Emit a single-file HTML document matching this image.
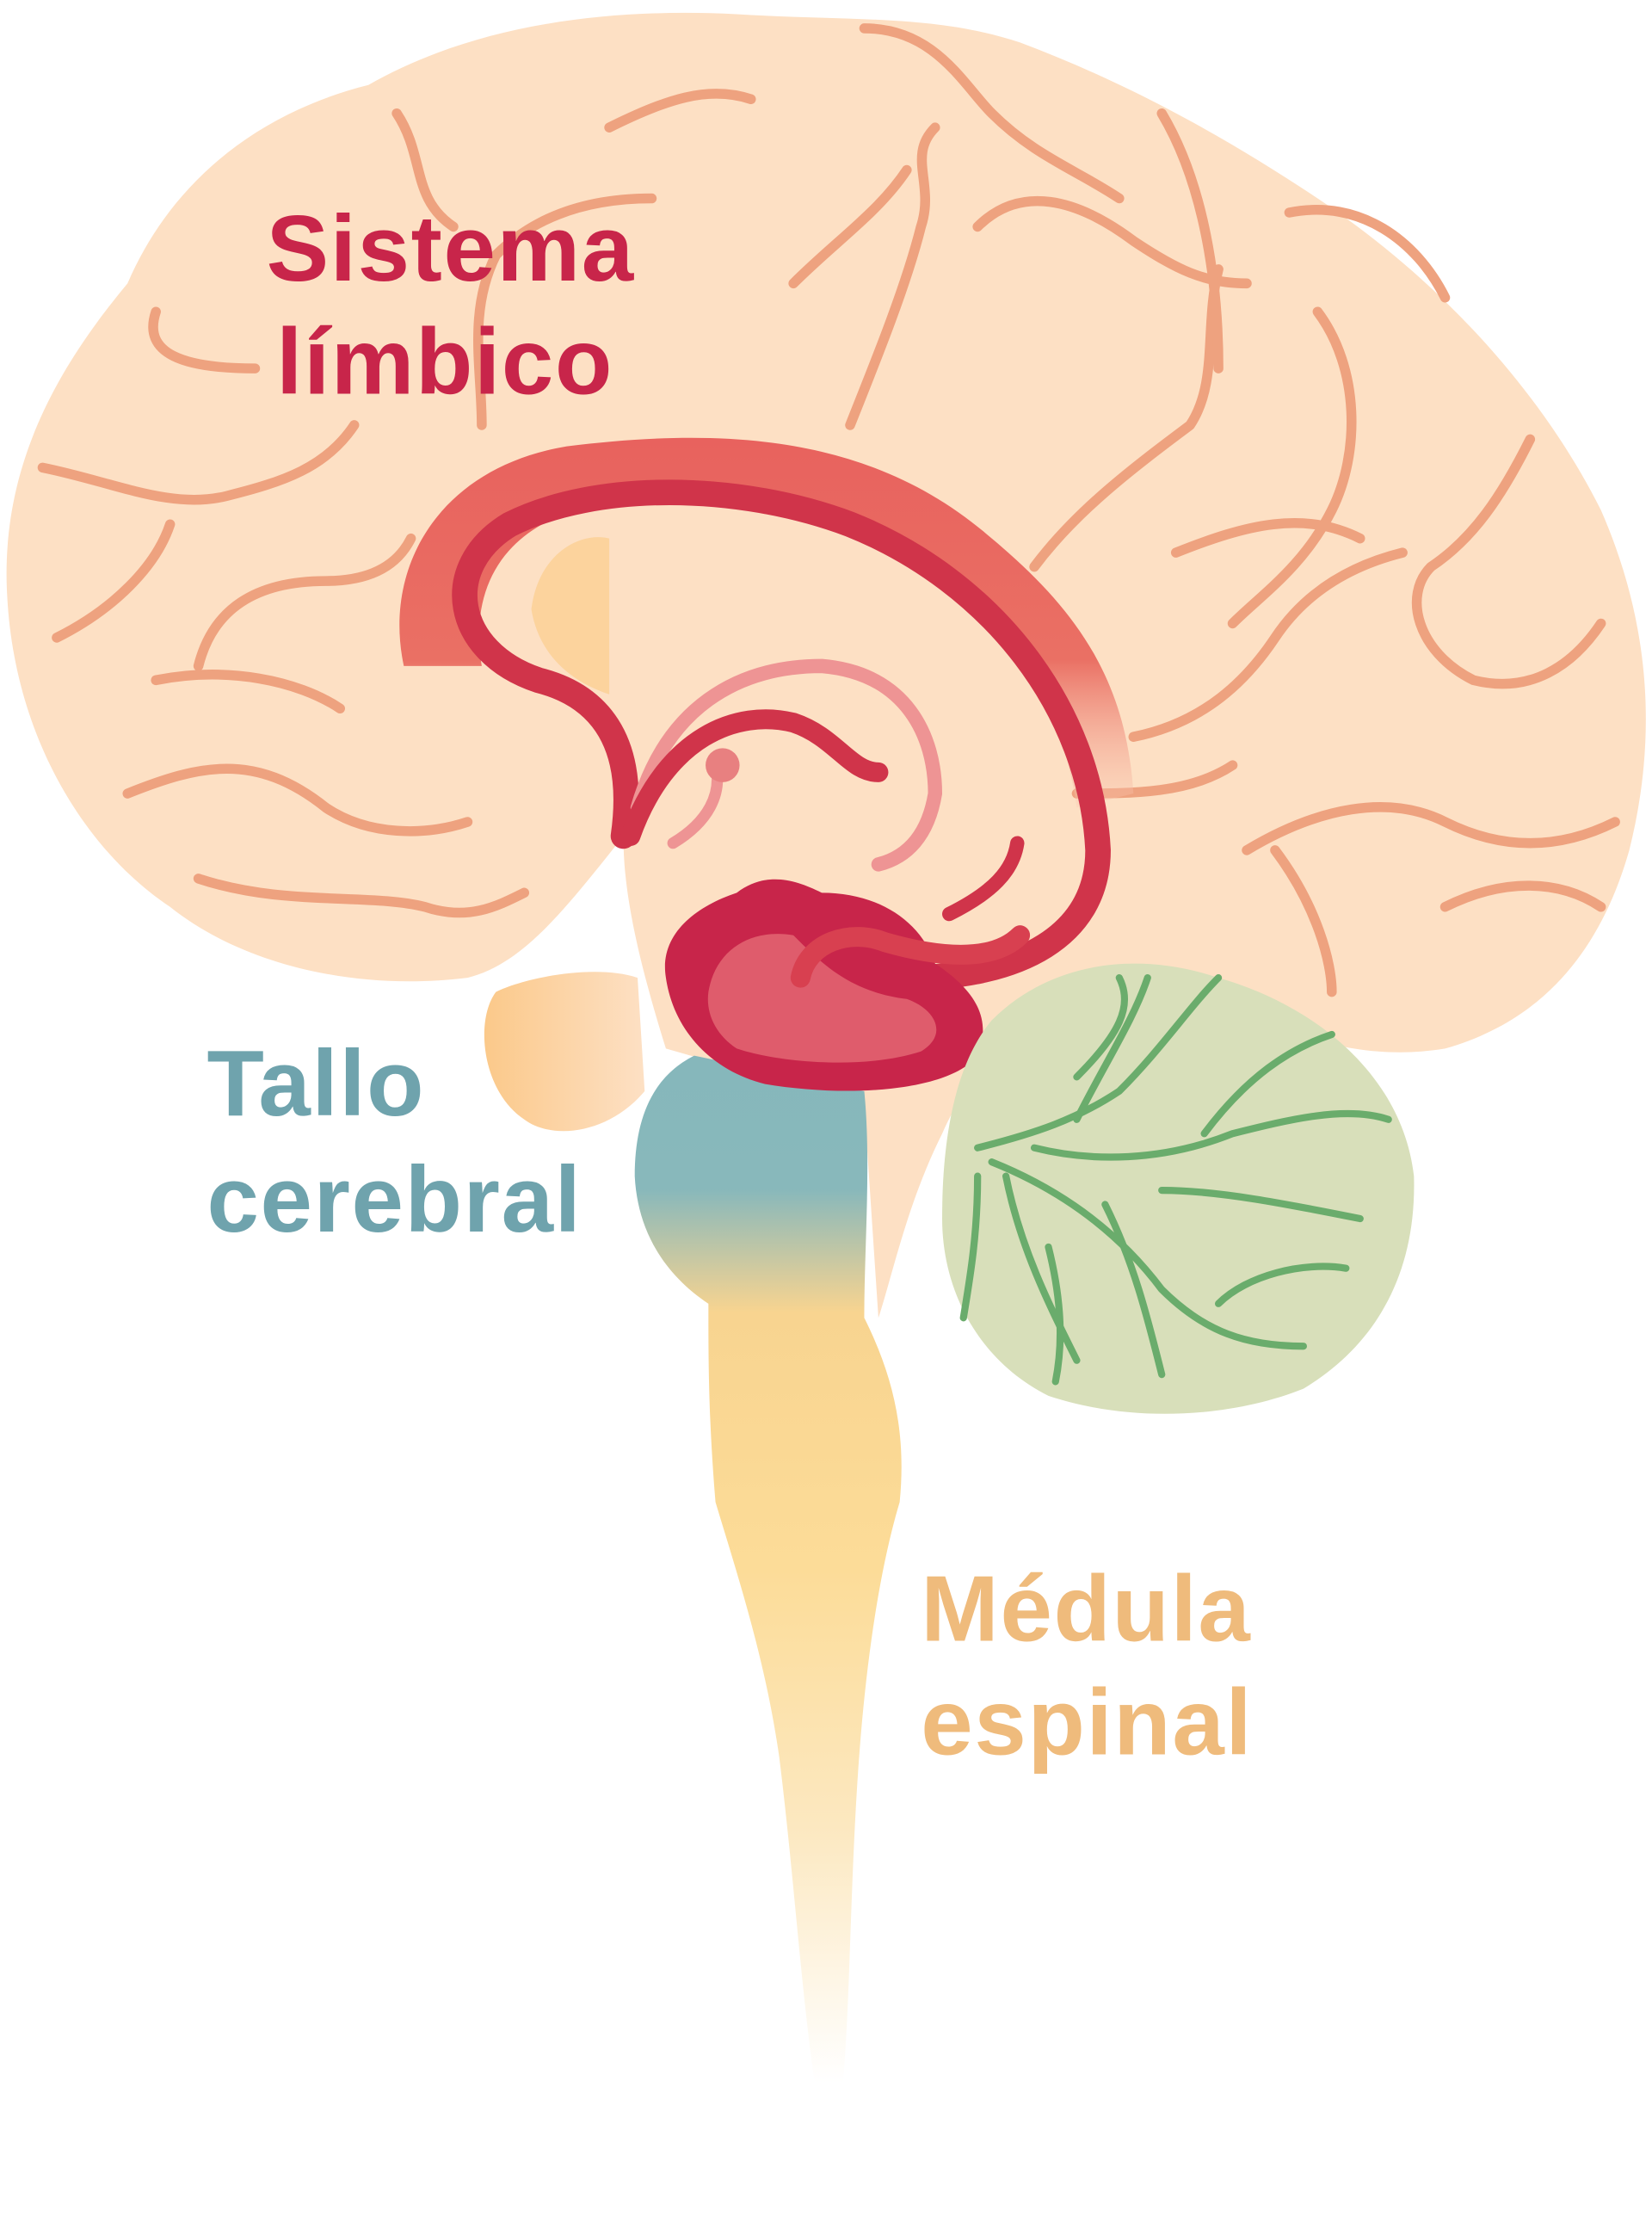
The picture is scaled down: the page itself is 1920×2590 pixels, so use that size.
<!DOCTYPE html>
<html><head><meta charset="utf-8"><style>
html,body{margin:0;padding:0;background:#fff;}
svg{display:block;}
text{font-family:"Liberation Sans","DejaVu Sans",sans-serif;font-weight:bold;}
</style></head><body>
<svg width="1920" height="2590" viewBox="0 0 1166 1573" xmlns="http://www.w3.org/2000/svg">
<defs>
<linearGradient id="stem" x1="0" y1="0" x2="0" y2="1">
<stop offset="0" stop-color="#86b7bb"/><stop offset="0.13" stop-color="#88b8bb"/>
<stop offset="0.25" stop-color="#f8d490"/><stop offset="0.5" stop-color="#fcdc98"/>
<stop offset="0.75" stop-color="#fce8c0"/><stop offset="1" stop-color="#fff"/>
</linearGradient>
<linearGradient id="pons" x1="0" y1="0" x2="1" y2="0">
<stop offset="0" stop-color="#fbc98a"/><stop offset="1" stop-color="#fde0c4"/>
</linearGradient>
<linearGradient id="band" x1="0" y1="0" x2="0" y2="1">
<stop offset="0" stop-color="#e8625e"/><stop offset="0.6" stop-color="#ea7064"/><stop offset="1" stop-color="#f9c8b0" stop-opacity="0.3"/>
</linearGradient>
</defs>
<path d="M330,690 C250,700 170,680 120,640 C60,600 10,520 5,420 C0,330 40,260 90,200 C120,130 180,80 260,60 C330,20 420,5 520,10 C600,15 660,10 720,30 C800,60 870,100 930,140 C1020,200 1090,280 1130,360 C1165,440 1170,520 1150,600 C1130,670 1090,720 1020,740 C960,750 900,730 860,700 C780,680 700,720 665,800 C640,850 630,900 620,930 L610,780 L470,740 C445,660 440,620 440,590 C400,640 370,680 330,690 Z" fill="#fde0c4"/>
<g fill="none" stroke="#eea27f" stroke-width="7" stroke-linecap="round" stroke-linejoin="round">
<path d="M30,330 C80,340 120,360 160,350 C200,340 230,330 250,300"/>
<path d="M40,450 C80,430 110,400 120,370"/>
<path d="M90,560 C140,540 180,530 230,570 C260,590 300,590 330,580"/>
<path d="M140,620 C200,640 260,630 300,640 C330,650 350,640 370,630"/>
<path d="M110,480 C160,470 210,480 240,500"/>
<path d="M140,470 C150,430 180,410 230,410 C260,410 280,400 290,380"/>
<path d="M110,220 C100,250 130,260 180,260"/>
<path d="M340,300 C340,260 330,220 350,180 C380,150 420,140 460,140"/>
<path d="M280,80 C300,110 290,140 320,160"/>
<path d="M430,90 C470,70 500,60 530,70"/>
<path d="M610,20 C660,20 680,60 700,80 C730,110 760,120 790,140"/>
<path d="M600,300 C620,250 640,200 650,160 C660,130 640,110 660,90"/>
<path d="M560,200 C590,170 620,150 640,120"/>
<path d="M690,160 C720,130 760,140 800,170 C830,190 850,200 880,200"/>
<path d="M730,400 C760,360 800,330 840,300 C860,270 850,230 860,190"/>
<path d="M820,80 C850,130 860,200 860,260"/>
<path d="M910,150 C960,140 1000,170 1020,210"/>
<path d="M930,220 C960,260 960,320 940,360 C920,400 890,420 870,440"/>
<path d="M830,390 C880,370 920,360 960,380"/>
<path d="M1080,310 C1060,350 1040,380 1010,400 C990,420 1000,460 1040,480 C1080,490 1110,470 1130,440"/>
<path d="M800,520 C850,510 880,480 900,450 C920,420 950,400 990,390"/>
<path d="M880,600 C930,570 980,560 1020,580 C1060,600 1100,600 1140,580"/>
<path d="M900,600 C930,640 940,680 940,700"/>
<path d="M1020,640 C1060,620 1100,620 1130,640"/>
<path d="M760,560 C800,560 840,560 870,540"/>
</g>
<path d="M285,470 C270,400 310,330 400,315 C520,300 620,310 700,380 C760,430 795,480 800,560 L760,570 C750,500 720,450 670,410 C600,360 520,350 430,355 C360,365 330,410 340,470 Z" fill="url(#band)"/>
<path d="M375,430 C380,390 410,375 430,380 L430,490 C400,480 380,460 375,430 Z" fill="#fbcf94" opacity="0.8"/>
<path d="M440,590 C450,520 420,490 380,480 C320,460 310,400 360,370 C420,340 520,340 600,370 C700,410 770,500 775,600 C775,660 720,690 640,690" fill="none" stroke="#d0344a" stroke-width="18" stroke-linecap="round"/>
<path d="M450,570 C470,500 520,470 580,470 C640,475 660,520 660,560 C655,590 640,605 620,610" fill="none" stroke="#ee9494" stroke-width="10" stroke-linecap="round"/>
<path d="M445,590 C470,520 520,500 560,510 C590,520 600,545 620,545" fill="none" stroke="#d0344a" stroke-width="14" stroke-linecap="round"/>
<path d="M475,595 C500,580 510,560 505,540" fill="none" stroke="#ee9494" stroke-width="8" stroke-linecap="round"/>
<circle cx="510" cy="540" r="12" fill="#e88080"/>
<path d="M670,645 C700,630 715,615 718,595" fill="none" stroke="#d0344a" stroke-width="10" stroke-linecap="round"/>
<path d="M350,700 C370,690 420,680 450,690 L455,770 C430,800 390,805 370,790 C340,770 335,720 350,700 Z" fill="url(#pons)"/>
<path d="M490,745 L610,770 C615,820 610,880 610,930 C630,970 640,1010 635,1060 C620,1110 610,1180 605,1260 C600,1340 600,1410 595,1470 L575,1470 C565,1400 560,1320 550,1240 C540,1170 520,1110 505,1060 C500,1000 500,960 500,920 C470,900 450,870 448,830 C448,790 460,760 490,745 Z" fill="url(#stem)"/>
<path d="M470,690 C465,660 490,640 520,630 C540,615 560,620 580,630 C620,630 650,650 660,680 C690,700 700,720 690,745 C670,770 600,775 540,765 C500,755 475,725 470,690 Z" fill="#c8254a"/>
<path d="M500,700 C505,670 530,655 560,660 C580,680 600,700 640,705 C660,712 670,730 650,742 C610,755 550,750 520,740 C505,730 498,715 500,700 Z" fill="#df5c6c"/>
<path d="M565,690 C570,665 600,655 625,665 C660,675 700,680 720,660" fill="none" stroke="#d84050" stroke-width="14" stroke-linecap="round"/>
<path d="M700,720 C740,680 800,670 860,690 C930,710 990,760 998,830 C1000,900 970,950 920,980 C870,1000 800,1005 740,985 C690,960 665,910 665,860 C665,800 675,750 700,720 Z" fill="#d8dfba"/>
<g fill="none" stroke="#6aac6c" stroke-width="5" stroke-linecap="round">
<path d="M690,810 C730,800 760,790 790,770 C820,740 840,710 860,690"/>
<path d="M700,820 C750,840 790,870 820,910 C850,940 880,950 920,950"/>
<path d="M710,830 C720,880 740,920 760,960"/>
<path d="M690,830 C690,870 685,900 680,930"/>
<path d="M730,810 C770,820 820,820 870,800 C910,790 950,780 980,790"/>
<path d="M760,790 C780,750 800,720 810,690"/>
<path d="M820,840 C860,840 910,850 960,860"/>
<path d="M780,850 C800,890 810,930 820,970"/>
<path d="M850,800 C880,760 910,740 940,730"/>
<path d="M760,760 C790,730 800,710 790,690"/>
<path d="M740,880 C750,920 750,950 745,975"/>
<path d="M860,920 C880,900 920,890 950,895"/>
</g>
<text x="188" y="198" font-size="66" letter-spacing="1" fill="#c8254a">Sistema</text>
<text x="195" y="278" font-size="66" letter-spacing="1" fill="#c8254a">límbico</text>
<text x="146" y="787" font-size="66" letter-spacing="1" fill="#6fa3ad">Tallo</text>
<text x="146" y="869" font-size="66" letter-spacing="1" fill="#6fa3ad">cerebral</text>
<text x="650" y="1158" font-size="66" letter-spacing="1" fill="#efbb7c">Médula</text>
<text x="650" y="1238" font-size="66" letter-spacing="1" fill="#efbb7c">espinal</text>
</svg>
</body></html>
